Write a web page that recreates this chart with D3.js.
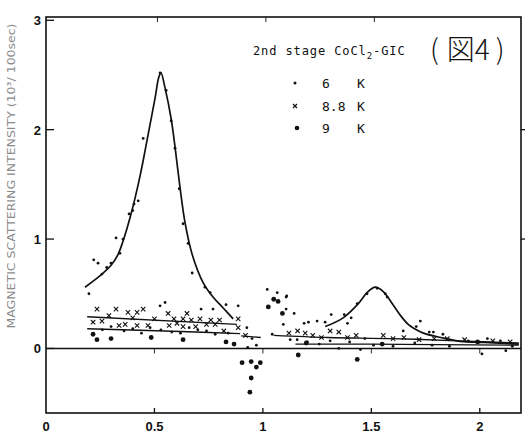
<!DOCTYPE html>
<html><head><meta charset="utf-8">
<script src="https://cdn.jsdelivr.net/npm/d3@7"></script>
<style>html,body{margin:0;padding:0;background:#fff;}svg{display:block;}</style>
</head><body><svg id="c" width="526" height="438"></svg>
<script>
// ---- data ----
const xTicks = [0, 0.5, 1, 1.5, 2];
const xTickLabels = ["0", "0.5", "1", "1.5", "2"];
const yTicks = [0, 1, 2, 3];
const yTickLabels = ["0", "1", "2", "3"];
const legendLabels = [["6", "K"], ["8.8", "K"], ["9", "K"]];
const titleText = "2nd stage CoCl";
const figParts = ["(", "図", "4", ")"];
const yLabel = "MAGNETIC SCATTERING INTENSITY (10³/ 100sec)";

// 6 K (small dots)
const pts6 = [
  [0.198,0.50],[0.22,0.81],[0.24,0.78],[0.258,0.68],[0.28,0.74],[0.30,0.78],[0.323,1.01],[0.341,0.87],
  [0.355,1.00],[0.383,1.23],[0.40,1.26],[0.406,1.32],[0.425,1.35],[0.448,1.92],[0.526,2.52],[0.554,2.36],
  [0.577,2.08],[0.595,1.83],[0.614,1.46],[0.632,1.14],[0.655,0.96],[0.674,0.69],[0.733,0.56],[0.757,0.51],
  [0.715,0.36],[0.77,0.36],[0.83,0.40],[0.886,0.39],[0.549,0.42],[0.526,0.39],
  [1.02,0.54],[1.066,0.51],[1.107,0.47],[1.107,0.36],[1.094,0.22],[1.043,0.13],
  [1.11,0.48],[1.144,0.32],[1.19,0.23],[1.21,0.24],[1.25,0.25],[1.287,0.24],[1.315,0.31],[1.375,0.31],
  [1.39,0.23],[1.407,0.28],[1.435,0.41],[1.48,0.50],[1.527,0.55],[1.564,0.50],[1.573,0.47],[1.647,0.16],
  [1.707,0.20],[1.726,0.25],[1.767,0.15],[1.786,0.15],[1.83,0.13],[1.947,0.07],[1.99,0.06],[2.035,0.09],[2.095,0.07],
  [0.26,0.17],[0.30,0.20],[0.36,0.16],[0.40,0.18],[0.44,0.14],[0.48,0.19],[0.53,0.17],[0.58,0.15],[0.62,0.14],
  [0.66,0.19],[0.70,0.17],[0.74,0.16],[0.78,0.13],[0.84,0.14],[0.926,0.19],[0.95,0.09],[0.93,0.01],[0.97,0.03],
  [1.126,0.08],[1.158,0.08],[1.205,0.06],[1.26,0.04],[1.31,0.07],[1.35,0.0],[1.40,0.06],[1.45,-0.01],[1.47,0.09],
  [1.51,0.03],[1.60,0.02],[1.70,0.05],[1.78,0.03],[1.86,0.02],[2.01,-0.05],[2.12,-0.02],[2.15,0.02]
];
// 8.8 K (crosses)
const pts88 = [
  [0.217,0.24],[0.235,0.36],[0.258,0.25],[0.29,0.30],[0.323,0.36],[0.337,0.21],[0.365,0.22],[0.378,0.33],
  [0.40,0.28],[0.42,0.33],[0.42,0.21],[0.448,0.36],[0.47,0.21],[0.50,0.27],[0.563,0.32],[0.568,0.21],
  [0.59,0.27],[0.604,0.23],[0.632,0.27],[0.632,0.20],[0.65,0.32],[0.67,0.26],[0.69,0.20],[0.71,0.27],
  [0.74,0.22],[0.76,0.26],[0.78,0.22],[0.80,0.26],[0.82,0.16],[0.886,0.27],[0.886,0.19],[0.92,0.12],
  [1.12,0.14],[1.16,0.16],[1.195,0.14],[1.23,0.12],[1.27,0.10],[1.31,0.16],[1.35,0.15],[1.39,0.10],
  [1.43,0.12],[1.555,0.12],[1.60,0.09],[1.65,0.10],[1.72,0.08],[1.79,0.09],[1.85,0.09],[1.93,0.08],[2.06,0.07],[2.14,0.06]
];
// 9 K (large dots)
const pts9 = [
  [0.217,0.13],[0.235,0.08],[0.30,0.09],[0.485,0.10],[0.632,0.08],[0.83,0.06],[0.867,0.04],
  [0.904,-0.13],[0.946,-0.12],[0.97,-0.17],[0.988,-0.13],[0.946,-0.27],[0.94,-0.40],
  [1.05,0.45],[1.07,0.43],[1.025,0.38],[1.09,0.32],
  [1.163,-0.06],[1.435,-0.10],[1.20,0.05],[1.55,0.04],[1.99,0.06]
];
// fitted curves
const fit6a = [[0.18,0.56],[0.258,0.68],[0.30,0.76],[0.33,0.85],[0.355,0.98],[0.388,1.20],[0.41,1.37],[0.434,1.58],
  [0.457,1.81],[0.48,2.05],[0.503,2.29],[0.52,2.48],[0.53,2.52],[0.549,2.38],[0.577,2.10],[0.595,1.84],[0.618,1.47],
  [0.641,1.15],[0.674,0.86],[0.725,0.60],[0.77,0.47],[0.817,0.37],[0.863,0.27]];
const fit6b = [[1.287,0.20],[1.37,0.28],[1.44,0.41],[1.48,0.51],[1.518,0.56],[1.555,0.52],[1.60,0.40],[1.635,0.30],
  [1.67,0.22],[1.70,0.18],[1.74,0.14],[1.82,0.10],[1.91,0.065],[2.02,0.055],[2.18,0.04]];
const fit88a = [[0.19,0.29],[0.88,0.22]];
const fit9a = [[0.19,0.18],[0.62,0.155],[0.895,0.135]];
const fit9step = [[0.90,0.115],[0.99,0.10]];
const fit88b = [[1.05,0.12],[1.30,0.10],[1.60,0.09],[1.90,0.07],[2.18,0.05]];
const fit9b = [[1.15,0.04],[1.50,0.04],[1.80,0.035],[2.18,0.03]];

// ---- drawing ----
const svg = d3.select("#c");
const x = d3.scaleLinear([0, 2.19], [46, 521]);
const y = d3.scaleLinear([-0.59, 3.03], [413, 17]);
const ink = "#111";

// frame
svg.append("rect").attr("x", x(0)).attr("y", y(3.03)).attr("width", x(2.19)-x(0)).attr("height", y(-0.59)-y(3.03))
  .attr("fill","none").attr("stroke",ink).attr("stroke-width",1.6);
// zero line
svg.append("line").attr("x1",x(0)).attr("x2",x(2.19)).attr("y1",y(0)).attr("y2",y(0)).attr("stroke",ink).attr("stroke-width",1.6);

// ticks
const g = svg.append("g").attr("stroke",ink).attr("stroke-width",1.3);
yTicks.forEach(t=>{ g.append("line").attr("x1",x(0)).attr("x2",x(0)+8).attr("y1",y(t)).attr("y2",y(t)); });
[1,2].forEach(t=>{ g.append("line").attr("x1",x(2.19)).attr("x2",x(2.19)+4).attr("y1",y(t)).attr("y2",y(t)); });
xTicks.slice(1).forEach(t=>{
  g.append("line").attr("x1",x(t)).attr("x2",x(t)).attr("y1",y(-0.59)).attr("y2",y(-0.59)-5);
  g.append("line").attr("x1",x(t)).attr("x2",x(t)).attr("y1",y(0)).attr("y2",y(0)+5).attr("stroke-width",0.9);
});
[0.5,1,1.5].forEach(t=>{ g.append("line").attr("x1",x(t)+3).attr("x2",x(t)+3).attr("y1",y(3.03)).attr("y2",y(3.03)+5).attr("stroke-width",0.9); });

// tick labels
const font = "'Liberation Sans', Arial, sans-serif";
yTicks.forEach((t,i)=>{
  svg.append("text").attr("x",x(0)-5).attr("y",y(t)+5).attr("text-anchor","end")
    .attr("font-family",font).attr("font-weight","bold").attr("font-size",13).attr("fill",ink).text(yTickLabels[i]);
});
xTicks.forEach((t,i)=>{
  svg.append("text").attr("x",x(t)).attr("y",431).attr("text-anchor","middle")
    .attr("font-family",font).attr("font-weight","bold").attr("font-size",13).attr("fill",ink).text(xTickLabels[i]);
});

// y axis label
svg.append("text").attr("transform",`translate(15,${(22+330)/2}) rotate(-90)`).attr("text-anchor","middle")
  .attr("font-family","'DejaVu Sans', sans-serif").attr("font-size",10).attr("fill","#8a8a8a")
  .attr("textLength",305).attr("lengthAdjust","spacingAndGlyphs").text(yLabel);

// curves
const cline = d3.line().x(d=>x(d[0])).y(d=>y(d[1])).curve(d3.curveCatmullRom.alpha(0.5));
[fit6a, fit6b].forEach(d=>svg.append("path").attr("d",cline(d)).attr("fill","none").attr("stroke",ink).attr("stroke-width",1.7));
[fit88a, fit9a, fit9step, fit88b, fit9b].forEach(d=>svg.append("path").attr("d",cline(d)).attr("fill","none").attr("stroke",ink).attr("stroke-width",1.3));

// points
svg.append("g").selectAll("circle").data(pts6).join("circle")
  .attr("cx",d=>x(d[0])).attr("cy",d=>y(d[1])).attr("r",1.4).attr("fill",ink);
svg.append("g").selectAll("path").data(pts88).join("path")
  .attr("d",d=>{const cx=x(d[0]),cy=y(d[1]),s=2.2;return `M${cx-s},${cy-s}L${cx+s},${cy+s}M${cx-s},${cy+s}L${cx+s},${cy-s}`;})
  .attr("stroke",ink).attr("stroke-width",1.1);
svg.append("g").selectAll("circle").data(pts9).join("circle")
  .attr("cx",d=>x(d[0])).attr("cy",d=>y(d[1])).attr("r",2.4).attr("fill",ink);

// legend / title
const tfont = "'DejaVu Sans Mono', 'Liberation Mono', monospace";
const title = svg.append("text").attr("x",253).attr("y",55).attr("font-family",tfont).attr("font-size",12)
  .attr("letter-spacing",0.9).attr("fill",ink);
title.append("tspan").text(titleText);
title.append("tspan").attr("dy",4).attr("font-size",9).text("2");
title.append("tspan").attr("dy",-4).text("-GIC");
const fig = svg.append("text").attr("x",430).attr("y",60).attr("font-family","'Noto Sans CJK JP', sans-serif").attr("font-size",28)
  .attr("font-weight",300).attr("fill",ink);
const figDx = [0, 8, 0, 6];
figParts.forEach((p,i)=>fig.append("tspan").attr("dx",figDx[i]).text(p));

const ly = [83, 106, 128];
svg.append("circle").attr("cx",295).attr("cy",ly[0]).attr("r",1.5).attr("fill",ink);
svg.append("path").attr("d",`M293,${ly[1]-2}L297,${ly[1]+2}M293,${ly[1]+2}L297,${ly[1]-2}`).attr("stroke",ink).attr("stroke-width",1.2);
svg.append("circle").attr("cx",297).attr("cy",ly[2]).attr("r",2.3).attr("fill",ink);
legendLabels.forEach((l,i)=>{
  svg.append("text").attr("x",322).attr("y",ly[i]+5).attr("font-family",tfont).attr("font-size",13).attr("fill",ink).text(l[0]);
  svg.append("text").attr("x",357).attr("y",ly[i]+5).attr("font-family",tfont).attr("font-size",13).attr("fill",ink).text(l[1]);
});
</script></body></html>
